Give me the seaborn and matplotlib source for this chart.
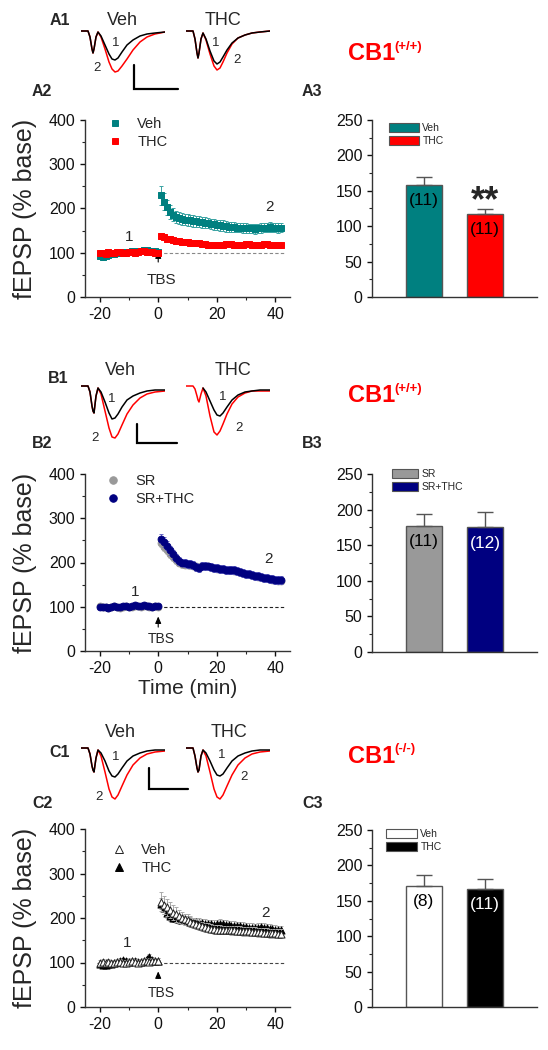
import matplotlib
matplotlib.use("Agg")
import matplotlib.pyplot as plt
import seaborn as sns
from matplotlib.lines import Line2D
from matplotlib.patches import Patch

sns.set_theme(style="ticks")
plt.rcParams["font.family"] = ["Liberation Sans", "DejaVu Sans"]
plt.rcParams.update({
    "axes.linewidth": 1.0,
    "axes.unicode_minus": False,
    "xtick.major.width": 1.0, "ytick.major.width": 1.0,
    "xtick.minor.width": 0.8, "ytick.minor.width": 0.8,
    "xtick.major.size": 3.5, "ytick.major.size": 3.5,
    "xtick.minor.size": 2.0, "ytick.minor.size": 2.0,
    "xtick.direction": "out", "ytick.direction": "out",
    "axes.edgecolor": "#333333",
})

# ---------------- data ----------------
TIME = [-20, -19, -18, -17, -16, -15, -14, -13, -12, -11, -10, -9, -8, -7, -6, -5, -4, -3, -2, -1, 0,
        1, 2, 3, 4, 5, 6, 7, 8, 9, 10, 11, 12, 13, 14, 15, 16, 17, 18, 19, 20,
        21, 22, 23, 24, 25, 26, 27, 28, 29, 30, 31, 32, 33, 34, 35, 36, 37, 38, 39, 40, 41, 42]

# A2 : CB1(+/+) Veh vs THC
A_VEH = [92, 91, 93, 95, 97, 98, 99, 100, 100, 101, 102, 103, 103, 104, 105, 107, 106, 105, 104, 103, 102,
         230, 215, 203, 193, 186, 181, 178, 176, 175, 174, 173, 172, 171, 170, 169, 168, 167, 165, 164, 163,
         162, 161, 160, 159, 158, 158, 157, 157, 156, 156, 155, 155, 154, 155, 156, 157, 157, 158, 157, 157, 156, 157]
A_VEH_ERR = [6, 6, 5, 5, 5, 5, 5, 4, 4, 4, 4, 5, 5, 5, 5, 6, 5, 5, 5, 5, 5,
             21, 19, 17, 16, 15, 14, 14, 13, 13, 13, 13, 13, 12, 12, 12, 12, 12, 12, 12, 12,
             12, 12, 12, 11, 11, 11, 11, 11, 11, 11, 11, 11, 11, 11, 11, 11, 11, 11, 11, 11, 11, 11]
A_THC = [99, 100, 98, 101, 100, 99, 101, 102, 100, 99, 101, 102, 100, 101, 103, 104, 102, 101, 102, 100, 99,
         137, 135, 132, 130, 128, 127, 126, 125, 125, 124, 123, 122, 122, 121, 120, 119, 118, 118, 117, 117,
         118, 118, 119, 120, 119, 118, 117, 117, 118, 119, 119, 118, 117, 117, 118, 119, 119, 118, 117, 117, 118, 117]
A_THC_ERR = [4, 4, 4, 4, 4, 4, 4, 4, 4, 4, 4, 4, 4, 4, 4, 4, 4, 4, 4, 4, 4,
             7, 7, 6, 6, 6, 6, 6, 6, 6, 6, 6, 6, 6, 6, 6, 6, 6, 6, 6, 6,
             6, 6, 6, 6, 6, 6, 6, 6, 6, 6, 6, 6, 6, 6, 6, 6, 6, 6, 6, 6, 6, 6]

# B2 : SR vs SR+THC
B_SR = [101, 99, 100, 98, 99, 101, 100, 98, 100, 101, 99, 100, 102, 101, 100, 102, 101, 100, 99, 101, 100,
        245, 236, 228, 220, 212, 205, 199, 196, 195, 195, 194, 193, 191, 190, 191, 192, 191, 189, 187, 186,
        186, 185, 184, 183, 183, 181, 180, 178, 176, 174, 173, 171, 169, 168, 167, 165, 164, 162, 161, 160, 159, 159]
B_SR_ERR = [4, 4, 4, 4, 4, 4, 4, 4, 4, 4, 4, 4, 4, 4, 4, 4, 4, 4, 4, 4, 4,
            10, 10, 9, 9, 9, 8, 8, 8, 8, 8, 8, 8, 8, 8, 8, 8, 8, 8, 8, 8,
            8, 8, 8, 8, 8, 8, 8, 8, 8, 8, 8, 8, 8, 8, 8, 8, 8, 8, 8, 8, 8, 8]
B_SRTHC = [99, 100, 99, 98, 100, 101, 100, 99, 101, 102, 100, 101, 103, 102, 101, 103, 102, 101, 100, 102, 101,
           254, 247, 238, 228, 219, 210, 204, 200, 198, 197, 196, 194, 190, 188, 192, 193, 191, 190, 188, 187,
           186, 185, 184, 184, 183, 182, 181, 179, 177, 175, 174, 172, 170, 169, 168, 166, 165, 163, 162, 161, 160, 160]
B_SRTHC_ERR = [4, 4, 4, 4, 4, 4, 4, 4, 4, 4, 4, 4, 4, 4, 4, 4, 4, 4, 4, 4, 4,
               11, 11, 10, 10, 10, 9, 9, 9, 9, 9, 9, 9, 9, 9, 9, 9, 9, 9, 9, 9,
               9, 9, 9, 9, 9, 9, 9, 9, 9, 9, 9, 9, 9, 9, 9, 9, 9, 9, 9, 9, 9, 9]

# C2 : CB1(-/-) Veh vs THC
C_VEH = [100, 102, 98, 101, 99, 100, 102, 101, 100, 99, 101, 103, 102, 100, 101, 103, 104, 102, 103, 104, 103,
         237, 230, 224, 218, 212, 208, 204, 200, 197, 195, 192, 189, 186, 184, 181, 179, 178, 176, 175, 174,
         174, 173, 173, 173, 172, 172, 171, 171, 170, 170, 170, 169, 169, 168, 168, 167, 167, 166, 166, 166, 165, 165]
C_VEH_ERR = [6, 6, 6, 6, 6, 6, 6, 6, 6, 6, 6, 6, 6, 6, 6, 6, 6, 6, 6, 6, 6,
             22, 20, 19, 18, 17, 16, 15, 14, 13, 13, 12, 12, 11, 11, 11, 10, 10, 10, 10, 10,
             10, 10, 10, 10, 10, 10, 10, 10, 10, 10, 10, 10, 10, 10, 10, 10, 10, 10, 10, 10, 10, 10]
C_THC = [96, 95, 94, 97, 96, 99, 101, 104, 105, 103, 102, 103, 104, 102, 101, 104, 107, 112, 106, 104, 103,
         232, 222, 212, 205, 201, 199, 197, 196, 195, 194, 193, 191, 190, 189, 188, 187, 186, 186, 185, 186,
         187, 186, 185, 184, 183, 183, 182, 181, 180, 179, 178, 178, 177, 178, 179, 178, 177, 176, 175, 174, 173, 172]
C_THC_ERR = [6, 6, 6, 6, 6, 6, 6, 6, 6, 6, 6, 6, 6, 6, 6, 6, 6, 6, 6, 6, 6,
             12, 12, 12, 11, 11, 11, 11, 10, 10, 10, 10, 10, 10, 10, 10, 10, 10, 10, 10, 10,
             10, 10, 10, 10, 10, 10, 10, 10, 10, 10, 10, 10, 10, 10, 10, 10, 10, 10, 10, 10, 10, 10]

# bar summaries
A3_GROUPS = ["Veh", "THC"]; A3_MEAN = [158, 117]; A3_SEM = [12, 7]; A3_N = ["(11)", "(11)"]
B3_GROUPS = ["SR", "SR+THC"]; B3_MEAN = [177, 175]; B3_SEM = [17, 21]; B3_N = ["(11)", "(12)"]
C3_GROUPS = ["Veh", "THC"]; C3_MEAN = [171, 167]; C3_SEM = [16, 14]; C3_N = ["(8)", "(11)"]

# example fEPSP traces (ms, mV); 1 = baseline (black), 2 = after TBS (red)
TRACE_MS = [0, 1.75, 2.25, 2.75, 3.0, 3.25, 3.75, 4.25, 5.0, 6.0, 7.0, 7.75, 8.5, 9.25, 10.25,
            11.5, 13.0, 14.75, 16.5, 18.5, 21.0]
A1_VEH_1 = [0, 0, -0.12, -0.36, -0.44, -0.36, -0.12, -0.02, -0.10, -0.28, -0.46, -0.56, -0.58, -0.54, -0.42,
            -0.28, -0.18, -0.10, -0.06, -0.04, -0.02]
A1_VEH_2 = [0, 0, -0.12, -0.36, -0.44, -0.36, -0.12, -0.02, -0.12, -0.36, -0.62, -0.76, -0.82, -0.80, -0.70,
            -0.56, -0.38, -0.22, -0.12, -0.06, -0.02]
A1_THC_1 = [0, 0, -0.16, -0.44, -0.54, -0.44, -0.16, -0.04, -0.16, -0.40, -0.60, -0.66, -0.62, -0.52, -0.38,
            -0.24, -0.14, -0.08, -0.04, -0.02, 0]
A1_THC_2 = [0, 0, -0.16, -0.44, -0.54, -0.44, -0.16, -0.04, -0.18, -0.46, -0.70, -0.78, -0.74, -0.62, -0.44,
            -0.26, -0.14, -0.08, -0.04, -0.02, 0]
B1_VEH_1 = [0, 0, -0.12, -0.40, -0.50, -0.54, -0.20, -0.04, -0.12, -0.32, -0.54, -0.66, -0.64, -0.56, -0.42,
            -0.28, -0.20, -0.14, -0.10, -0.08, -0.08]
B1_VEH_2 = [0, 0, -0.12, -0.40, -0.50, -0.54, -0.20, -0.04, -0.16, -0.50, -0.84, -1.02, -1.04, -0.96, -0.78,
            -0.56, -0.38, -0.24, -0.16, -0.12, -0.10]
B1_THC_1 = [None, None, None, None, None, None, None, -0.04, -0.12, -0.30, -0.48, -0.58, -0.60, -0.54, -0.42,
            -0.28, -0.18, -0.12, -0.10, -0.08, -0.08]
B1_THC_2 = [0, 0, -0.06, -0.20, -0.28, -0.32, -0.16, -0.04, -0.20, -0.60, -0.92, -0.98, -0.90, -0.76, -0.56,
            -0.36, -0.22, -0.14, -0.10, -0.10, -0.10]
C1_VEH_1 = [0, 0, -0.12, -0.36, -0.44, -0.48, -0.20, -0.04, -0.10, -0.26, -0.46, -0.56, -0.58, -0.52, -0.40,
            -0.26, -0.16, -0.10, -0.06, -0.04, -0.04]
C1_VEH_2 = [0, 0, -0.12, -0.36, -0.44, -0.48, -0.20, -0.04, -0.16, -0.48, -0.82, -0.98, -1.02, -0.94, -0.76,
            -0.54, -0.34, -0.20, -0.12, -0.08, -0.06]
C1_THC_1 = [0, 0, -0.16, -0.40, -0.48, -0.44, -0.16, -0.04, -0.10, -0.26, -0.44, -0.54, -0.56, -0.52, -0.40,
            -0.26, -0.16, -0.10, -0.06, -0.04, -0.04]
C1_THC_2 = [0, 0, -0.16, -0.40, -0.48, -0.44, -0.16, -0.04, -0.16, -0.48, -0.82, -0.98, -1.02, -0.94, -0.76,
            -0.54, -0.34, -0.20, -0.12, -0.08, -0.06]

# ---------------- figure ----------------
W, H = 548, 1050
fig = plt.figure(figsize=(W / 100, H / 100), dpi=100)
fig.patch.set_facecolor("white")


def px_axes(l, t, r, b):
    return fig.add_axes([l / W, (H - b) / H, (r - l) / W, (b - t) / H])


def ftext(x, y, s, **kw):
    return fig.text(x / W, (H - y) / H, s, **kw)


def trace_panel(left, base, black, red, numpos, bar=None):
    ax = px_axes(left, base - 2, left + 84, base + 55)
    ax.set_xlim(0, 21)
    ax.set_ylim(-1.10, 0.04)
    ax.axis("off")
    t1 = [t for t, v in zip(TRACE_MS, black) if v is not None]
    v1 = [v for v in black if v is not None]
    sns.lineplot(x=TRACE_MS, y=red, color="#FF0000", lw=1.1, ax=ax, estimator=None, sort=False)
    sns.lineplot(x=t1, y=v1, color="black", lw=1.1, ax=ax, estimator=None, sort=False)
    for s, (x, y) in zip(["1", "2"], numpos):
        ftext(x, y, s, fontsize=9.5, ha="center", va="center")
    if bar is not None:
        x0, y0, dx, dy = bar
        ax.plot([x0, x0, x0 + dx], [y0 + dy, y0, y0], color="black", lw=1.6, clip_on=False,
                solid_joinstyle="miter")
    return ax


def timecourse(top, bottom, series, legend_pos, tbs, nums, xlabel=None, dash="#777777"):
    ax = px_axes(85, top, 290, bottom)
    handles = []
    for vals, errs, edge, face, ecol, marker, size, lab, z in series:
        ax.errorbar(TIME, vals, yerr=errs, fmt="none", ecolor=ecol, elinewidth=0.7, capsize=1.2,
                    capthick=0.7, zorder=z)
        sns.scatterplot(x=TIME, y=vals, marker=marker, s=size, color=face, edgecolor=edge,
                        linewidth=0.7, ax=ax, zorder=z + 0.5)
        handles.append(Line2D([], [], ls="", marker=marker, markersize=size ** 0.5 + 0.5,
                              markerfacecolor=face, markeredgecolor=edge, markeredgewidth=0.7, label=lab))
    ax.hlines(100, -21, 43, colors=dash, linestyles=(0, (3, 2)), lw=0.8, zorder=0.5)
    ax.set_xlim(-25, 45)
    ax.set_ylim(0, 400)
    ax.set_xticks([-20, 0, 20, 40])
    ax.set_xticks([-10, 10, 30], minor=True)
    ax.set_yticks([0, 100, 200, 300, 400])
    ax.set_yticks([50, 150, 250, 350], minor=True)
    ax.tick_params(labelsize=11.5, colors="#111111")
    sns.despine(ax=ax)
    ax.set_ylabel("fEPSP (% base)", fontsize=18)
    ax.yaxis.set_label_coords(-0.235, 0.5)
    if xlabel:
        ax.set_xlabel(xlabel, fontsize=15, labelpad=2)
    ay0, ay1, ty, fs = tbs
    ax.annotate("", xy=(0, ay1), xytext=(0, ay0),
                arrowprops=dict(arrowstyle="-|>,head_length=0.5,head_width=0.22", lw=0.8,
                                color="black", shrinkA=0, shrinkB=0, mutation_scale=8))
    ax.text(1, ty, "TBS", fontsize=fs, ha="center", va="center")
    for s, (x, y) in zip(["1", "2"], nums):
        ax.text(x, y, s, fontsize=11, ha="center", va="center")
    lx, ly = legend_pos
    ax.legend(handles=handles, loc="upper left", bbox_to_anchor=(lx / W, 1 - ly / H),
              bbox_transform=fig.transFigure, frameon=False, fontsize=10.5, handlelength=1.0,
              handletextpad=1.0, labelspacing=0.3, borderpad=0, borderaxespad=0)
    return ax


def barpanel(top, bottom, groups, means, sems, ns, colors, ncolors, legend_pos, hl, star=None):
    ax = px_axes(372, top, 537, bottom)
    sns.barplot(x=groups, y=means, hue=groups, hue_order=groups, order=groups, palette=colors,
                width=0.585, edgecolor="#555555", linewidth=1.0, legend=False, ax=ax, saturation=1)
    ax.errorbar(range(len(groups)), means, yerr=[[0] * len(groups), sems], fmt="none",
                ecolor="#555555", elinewidth=1.0, capsize=6, capthick=1.0, zorder=3)
    for i, (m, n, c) in enumerate(zip(means, ns, ncolors)):
        ax.text(i, m - 22, n, fontsize=12.5, ha="center", va="center", color=c)
    if star:
        ax.text(1, star, "**", fontsize=26, fontweight="bold", ha="center", va="baseline")
    ax.set_xlim(-0.85, 1.85)
    ax.set_ylim(0, 250)
    ax.set_yticks([0, 50, 100, 150, 200, 250])
    ax.set_yticks([25, 75, 125, 175, 225], minor=True)
    ax.set_xticks([])
    ax.set_xlabel("")
    ax.tick_params(labelsize=11.5, colors="#111111")
    sns.despine(ax=ax)
    handles = [Patch(facecolor=c, edgecolor="#555555", lw=0.8, label=g) for g, c in zip(groups, colors)]
    lx, ly = legend_pos
    ax.legend(handles=handles, loc="upper left", bbox_to_anchor=(lx / W, 1 - ly / H),
              bbox_transform=fig.transFigure, frameon=False, fontsize=7.5, handlelength=hl,
              handleheight=0.95, handletextpad=0.3, labelspacing=0.3, borderpad=0, borderaxespad=0)
    return ax


# ---- row A ----
trace_panel(81, 31, A1_VEH_1, A1_VEH_2, [(116, 43), (97, 68)], bar=(13.25, -1.16, 11, 0.48))
trace_panel(186, 31, A1_THC_1, A1_THC_2, [(216, 43), (237, 60)])
timecourse(120, 297,
           [(A_VEH, A_VEH_ERR, "#008080", "#008080", "#3AA3A3", "s", 20, "Veh", 2),
            (A_THC, A_THC_ERR, "#FF0000", "#FF0000", "#FF5A5A", "s", 20, "THC", 3)],
           (108, 117), (79, 103, 38, 11), [(-10, 136), (38, 203)], dash="#888888")
barpanel(120, 297, A3_GROUPS, A3_MEAN, A3_SEM, A3_N, ["#008080", "#FF0000"], ["black", "black"],
         (389, 123), 2.9, star=121.5)

# ---- row B ----
trace_panel(81, 386, B1_VEH_1, B1_VEH_2, [(112, 399), (95, 438)], bar=(14, -1.14, 10, 0.38))
trace_panel(186, 386, B1_THC_1, B1_THC_2, [(223, 397), (239, 428)])
timecourse(474, 651,
           [(B_SR, B_SR_ERR, "#999999", "#999999", "#C4C4C4", "o", 24, "SR", 2),
            (B_SRTHC, B_SRTHC_ERR, "#000080", "#000080", "#6A6AC8", "o", 24, "SR+THC", 3)],
           (106, 474), (54, 78, 27, 10), [(-8, 133), (37.5, 208)], xlabel="Time (min)", dash="#222222")
barpanel(474, 652, B3_GROUPS, B3_MEAN, B3_SEM, B3_N, ["#999999", "#000080"], ["black", "white"],
         (392, 469), 2.5)

# ---- row C ----
trace_panel(81, 748, C1_VEH_1, C1_VEH_2, [(116, 757), (99, 797)], bar=(17, -0.82, 9.75, 0.42))
trace_panel(186, 748, C1_THC_1, C1_THC_2, [(222, 755), (244, 777)])
timecourse(829, 1007,
           [(C_VEH, C_VEH_ERR, "#222222", "white", "#AAAAAA", "^", 26, "Veh", 3),
            (C_THC, C_THC_ERR, "black", "black", "#AAAAAA", "^", 26, "THC", 2)],
           (112, 843), (64, 80, 31, 10), [(-10.7, 144), (36.5, 211)], dash="#444444")
barpanel(830, 1007, C3_GROUPS, C3_MEAN, C3_SEM, C3_N, ["white", "black"], ["black", "white"],
         (386, 829), 3.0)

# ---- panel labels and headings ----
for s, x, y in [("A1", 50, 25), ("A2", 32, 96), ("A3", 302, 96),
                ("B1", 48, 383), ("B2", 32, 448), ("B3", 302, 448),
                ("C1", 49, 757), ("C2", 32, 808), ("C3", 302, 808)]:
    ftext(x, y, s, fontsize=11.5, fontweight="bold", ha="left", va="baseline")

for s, x, y in [("Veh", 122, 25), ("THC", 223, 25), ("Veh", 120, 375), ("THC", 233, 375),
                ("Veh", 120, 737), ("THC", 229, 737)]:
    ftext(x, y, s, fontsize=13, ha="center", va="baseline")

for sup, ybase, ysup in [("(+/+)", 60, 50), ("(+/+)", 402, 392), ("(-/-)", 763, 752)]:
    ftext(348, ybase, "CB1", fontsize=17, fontweight="bold", color="#FF0000", ha="left", va="baseline")
    ftext(394, ysup, sup, fontsize=9.5, fontweight="bold", color="#FF0000", ha="left", va="baseline")

fig.savefig("out.png", dpi=100, facecolor="white")
